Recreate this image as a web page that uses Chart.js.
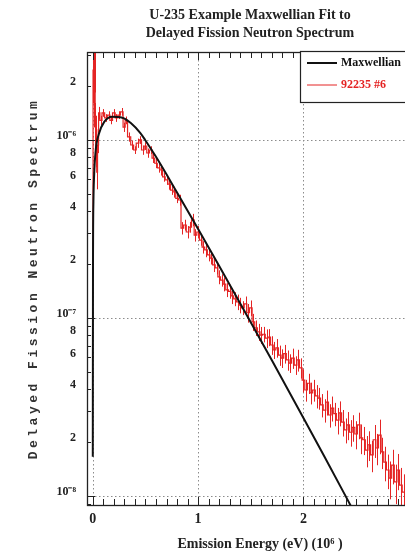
<!DOCTYPE html>
<html><head><meta charset="utf-8">
<script src="https://cdn.jsdelivr.net/npm/chart.js@4/dist/chart.umd.min.js"></script>
<style>
html,body{margin:0;padding:0;background:#fff;overflow:hidden;width:405px;height:559px}
#wrap{width:500px;height:559px;position:relative}
</style></head>
<body><div id="wrap"><canvas id="c" width="500" height="559"></canvas></div>
<script>
const titleLines = ['U-235 Example Maxwellian Fit to', 'Delayed Fission Neutron Spectrum'];
const xAxisTitle = 'Emission Energy (eV) (10\u2076 )';
const yAxisTitle = 'Delayed Fission Neutron Spectrum';
const seriesNames = ['Maxwellian', '92235 #6'];
const xTickValues = [0, 1, 2, 3];
const xTickLabels = ['0', '1', '2', '3'];
const yDecadeValues = [1e-8, 1e-7, 1e-6];
const yDecadeLabels = ['10\u207B\u2078', '10\u207B\u2077', '10\u207B\u2076'];
const yMinorLabelled = [2, 4, 6, 8];

const maxwellE = [0.000, 0.002, 0.006, 0.012, 0.028, 0.060, 0.107, 0.183, 0.280, 0.361, 0.450, 0.497, 0.600, 0.800, 1.000, 1.200, 1.477, 1.700, 2.000, 2.200, 2.445, 2.550];
const maxwellFlux = [1.66e-8, 2.0e-7, 4.5e-7, 6.2e-7, 8.8e-7, 1.09e-6, 1.26e-6, 1.35e-6, 1.334e-6, 1.245e-6, 1.096e-6, 1.0e-6, 8.04e-7, 5.07e-7, 3.16e-7, 1.96e-7, 1.0e-7, 5.78e-8, 2.74e-8, 1.66e-8, 8.91e-9, 6.82e-9];

const measE = [0.000, 0.005, 0.010, 0.015, 0.020, 0.025, 0.030, 0.035, 0.040, 0.050, 0.060, 0.075,
  0.100, 0.125, 0.150, 0.175, 0.200, 0.225, 0.250, 0.275, 0.300, 0.315, 0.345, 0.375,
  0.400, 0.425, 0.450, 0.475, 0.500, 0.525, 0.550, 0.575, 0.600, 0.625, 0.650, 0.675,
  0.700, 0.725, 0.750, 0.775, 0.800, 0.825, 0.850, 0.875, 0.900, 0.925, 0.950, 0.975,
  1.000, 1.025, 1.050, 1.075, 1.100, 1.125, 1.150, 1.175, 1.200, 1.225, 1.250, 1.275,
  1.300, 1.325, 1.350, 1.375, 1.400, 1.425, 1.450, 1.475, 1.500, 1.525, 1.550, 1.575,
  1.600, 1.625, 1.650, 1.675, 1.700, 1.725, 1.750, 1.775, 1.800, 1.825, 1.850, 1.875,
  1.900, 1.925, 1.950, 1.975, 2.000, 2.025, 2.050, 2.075, 2.100, 2.125, 2.150, 2.175,
  2.200, 2.225, 2.250, 2.275, 2.300, 2.325, 2.350, 2.375, 2.400, 2.425, 2.450, 2.475,
  2.500, 2.525, 2.550, 2.575, 2.600, 2.625, 2.650, 2.675, 2.700, 2.725, 2.750, 2.775,
  2.800, 2.825, 2.850, 2.875, 2.900, 2.925, 2.950, 2.975, 3.000];
const measFlux = [2.41e-7, 2.47e-6, 2.89e-6, 1.68e-6, 2.64e-6, 1.29e-6, 8.78e-7, 1.14e-6, 6.6e-7, 9.37e-7, 1.42e-6, 1.29e-6,
  1.42e-6, 1.33e-6, 1.38e-6, 1.29e-6, 1.42e-6, 1.33e-6, 1.38e-6, 1.44e-6, 1.18e-6, 1.29e-6, 1.04e-6, 9.37e-7,
  8.78e-7, 9.6e-7, 1.0e-6, 8.78e-7, 9.25e-7, 8.45e-7, 8.78e-7, 7.9e-7, 7.4e-7, 6.97e-7, 6.78e-7, 6.2e-7,
  5.96e-7, 5.65e-7, 5.23e-7, 5.1e-7, 4.7e-7, 4.6e-7, 3.2e-7, 3.33e-7, 3.04e-7, 3.24e-7, 3.56e-7, 2.92e-7,
  3.04e-7, 2.74e-7, 2.5e-7, 2.41e-7, 2.26e-7, 2.17e-7, 1.99e-7, 1.91e-7, 1.7e-7, 1.63e-7, 1.55e-7, 1.44e-7,
  1.41e-7, 1.33e-7, 1.28e-7, 1.23e-7, 1.18e-7, 1.14e-7, 1.2e-7, 1.07e-7, 1.14e-7, 9.5e-8, 8.8e-8, 8.35e-8,
  8.02e-8, 8.1e-8, 7.7e-8, 7.8e-8, 7.05e-8, 6.61e-8, 6.8e-8, 6.19e-8, 5.95e-8, 6.3e-8, 5.81e-8, 5.58e-8,
  5.95e-8, 5.44e-8, 5.81e-8, 5.25e-8, 4.48e-8, 3.94e-8, 4.3e-8, 3.8e-8, 3.94e-8, 3.65e-8, 3.55e-8, 3.25e-8,
  3.04e-8, 3.37e-8, 2.85e-8, 3.12e-8, 2.9e-8, 2.67e-8, 2.93e-8, 2.6e-8, 2.35e-8, 2.51e-8, 2.28e-8, 2.43e-8,
  2.23e-8, 2.51e-8, 2.12e-8, 2.07e-8, 1.81e-8, 1.94e-8, 1.7e-8, 2.07e-8, 1.86e-8, 2.2e-8, 1.77e-8, 1.55e-8,
  1.4e-8, 1.26e-8, 1.49e-8, 1.2e-8, 1.4e-8, 1.15e-8, 1.05e-8, 9.5e-9, 1.1e-8];
const measErrFrac = [0.15, 0.35, 0.3, 0.3, 0.3, 0.25, 0.2, 0.2, 0.2, 0.1, 0.08, 0.06,
  0.05, 0.05, 0.05, 0.05, 0.05, 0.05, 0.05, 0.05, 0.06, 0.05, 0.06, 0.06,
  0.05, 0.06, 0.05, 0.06, 0.05, 0.06, 0.05, 0.06, 0.06, 0.06, 0.07, 0.06,
  0.06, 0.07, 0.06, 0.07, 0.06, 0.07, 0.08, 0.07, 0.08, 0.07, 0.08, 0.08,
  0.08, 0.07, 0.08, 0.09, 0.08, 0.08, 0.09, 0.08, 0.09, 0.08, 0.09, 0.09,
  0.09, 0.1, 0.09, 0.1, 0.1, 0.09, 0.1, 0.12, 0.1, 0.11, 0.1, 0.11,
  0.11, 0.1, 0.12, 0.11, 0.12, 0.11, 0.12, 0.13, 0.12, 0.12, 0.13, 0.12,
  0.13, 0.12, 0.14, 0.13, 0.15, 0.14, 0.13, 0.14, 0.14, 0.15, 0.14, 0.15,
  0.15, 0.16, 0.15, 0.16, 0.15, 0.17, 0.16, 0.17, 0.16, 0.18, 0.17, 0.17,
  0.18, 0.17, 0.19, 0.18, 0.2, 0.19, 0.2, 0.21, 0.2, 0.22, 0.2, 0.22,
  0.22, 0.24, 0.22, 0.25, 0.23, 0.25, 0.26, 0.25, 0.27];

const SERIF = '"Liberation Serif", "Times New Roman", serif';
const RED = 'rgb(228,36,36)';

const decor = {
  id: 'decor',
  beforeDatasetsDraw(chart) {
    const {ctx, chartArea: a, scales: {x, y}} = chart;
    ctx.save();
    ctx.strokeStyle = '#8c8c8c';
    ctx.lineWidth = 1;
    ctx.setLineDash([1.5, 2.5]);
    ctx.beginPath();
    xTickValues.forEach(v => {
      const px = Math.round(x.getPixelForValue(v)) + 0.5;
      if (px >= a.left && px <= a.right) { ctx.moveTo(px, a.top); ctx.lineTo(px, a.bottom); }
    });
    yDecadeValues.forEach(v => {
      const py = Math.round(y.getPixelForValue(v)) + 0.5;
      ctx.moveTo(a.left, py); ctx.lineTo(a.right, py);
    });
    ctx.stroke();
    ctx.setLineDash([]);
    // error bars of the measured spectrum
    ctx.beginPath();
    ctx.rect(a.left, a.top, a.right - a.left, a.bottom - a.top);
    ctx.clip();
    ctx.strokeStyle = RED;
    ctx.lineWidth = 1;
    ctx.beginPath();
    measE.forEach((e, i) => {
      const px = Math.round(x.getPixelForValue(e)) + 0.5;
      const v = measFlux[i], f = measErrFrac[i];
      ctx.moveTo(px, y.getPixelForValue(v * (1 + f)));
      ctx.lineTo(px, y.getPixelForValue(v * (1 - f)));
    });
    ctx.stroke();
    ctx.restore();
  },
  afterDraw(chart) {
    const {ctx, chartArea: a, scales: {x, y}} = chart;
    ctx.save();
    ctx.strokeStyle = '#222';
    ctx.lineWidth = 1.3;
    ctx.strokeRect(Math.round(a.left) + 0.5, Math.round(a.top) + 0.5, Math.round(a.right - a.left), Math.round(a.bottom - a.top));
    ctx.lineWidth = 1;
    ctx.beginPath();
    for (let k = 0; k <= 40; k++) {
      const v = k / 10;
      if (v > x.max) break;
      const px = Math.round(x.getPixelForValue(v)) + 0.5;
      const len = (k % 10 === 0) ? 8 : 6;
      ctx.moveTo(px, a.bottom); ctx.lineTo(px, a.bottom - len);
      ctx.moveTo(px, a.top); ctx.lineTo(px, a.top + len);
    }
    y.ticks.forEach(t => {
      const py = Math.round(y.getPixelForValue(t.value)) + 0.5;
      const m = Math.round(t.value / Math.pow(10, Math.floor(Math.log10(t.value) + 1e-9)));
      const len = m === 1 ? 8 : 4;
      ctx.moveTo(a.left, py); ctx.lineTo(a.left + len, py);
    });
    ctx.stroke();
    // legend box
    const lx = 300, ly = a.top - 1, lw = 150, lh = 51;
    ctx.fillStyle = '#fff';
    ctx.fillRect(lx, ly, lw, lh);
    ctx.strokeStyle = '#222';
    ctx.lineWidth = 1.2;
    ctx.strokeRect(lx + 0.5, ly + 0.5, lw, lh);
    const ds = chart.data.datasets;
    const rows = [ly + 12, ly + 34];
    ds.forEach((d, i) => {
      ctx.strokeStyle = d.borderColor;
      ctx.lineWidth = i === 0 ? 2 : 1;
      ctx.beginPath();
      ctx.moveTo(307, rows[i]); ctx.lineTo(337, rows[i]);
      ctx.stroke();
      ctx.fillStyle = i === 0 ? '#111' : d.borderColor;
      ctx.font = 'bold 12px ' + SERIF;
      ctx.textAlign = 'left';
      ctx.textBaseline = 'middle';
      ctx.fillText(d.label, 341, rows[i]);
    });
    // y axis title
    ctx.translate(34, (a.top + a.bottom) / 2);
    ctx.rotate(-Math.PI / 2);
    ctx.font = 'bold 13px "Liberation Mono", monospace';
    try { ctx.letterSpacing = '3.5px'; } catch (e) {}
    ctx.fillStyle = '#333';
    ctx.textAlign = 'center';
    ctx.textBaseline = 'middle';
    ctx.fillText(yAxisTitle, 0, 0);
    ctx.restore();
  }
};

new Chart(document.getElementById('c'), {
  type: 'line',
  data: {
    datasets: [
      {
        label: seriesNames[0],
        data: maxwellE.map((e, i) => ({x: e, y: maxwellFlux[i]})),
        borderColor: '#111',
        borderWidth: 2,
        pointRadius: 0,
        cubicInterpolationMode: 'monotone',
        order: 0
      },
      {
        label: seriesNames[1],
        data: measE.map((e, i) => ({x: e, y: measFlux[i]})),
        borderColor: RED,
        borderWidth: 1.2,
        pointRadius: 0,
        stepped: 'middle',
        order: 1
      }
    ]
  },
  options: {
    responsive: false,
    animation: false,
    devicePixelRatio: 1,
    layout: {padding: 0},
    plugins: {
      legend: {display: false},
      tooltip: {enabled: false},
      title: {
        display: true,
        text: titleLines,
        color: '#222',
        font: {family: SERIF, size: 14, weight: 'bold', lineHeight: 1.3},
        padding: {top: 6, bottom: 9.6}
      }
    },
    scales: {
      x: {
        type: 'linear',
        min: -0.055,
        max: 3.23,
        grid: {display: false, drawTicks: false},
        border: {display: false},
        afterBuildTicks(s) { s.ticks = xTickValues.map(v => ({value: v})); },
        afterFit(s) { s.height = 54; },
        ticks: {
          autoSkip: false,
          maxRotation: 0,
          padding: 6,
          color: '#222',
          font: {family: SERIF, size: 14, weight: 'bold'},
          callback(v) { const i = xTickValues.indexOf(v); return i >= 0 ? xTickLabels[i] : ''; }
        },
        title: {
          display: true,
          text: xAxisTitle,
          color: '#222',
          font: {family: SERIF, size: 14, weight: 'bold'},
          padding: {top: 0, bottom: 6}
        }
      },
      y: {
        type: 'logarithmic',
        min: 8.9e-9,
        max: 3.12e-6,
        grid: {display: false, drawTicks: false},
        border: {display: false},
        afterBuildTicks(s) {
          const t = [];
          for (let e = -9; e <= -6; e++) {
            for (let m = 1; m <= 9; m++) {
              const v = m * Math.pow(10, e);
              if (v >= s.min && v <= s.max) t.push({value: v});
            }
          }
          s.ticks = t;
        },
        afterFit(s) { s.width = 87; },
        ticks: {
          autoSkip: false,
          padding: 11,
          labelOffset: -4,
          color: '#222',
          font: {family: SERIF, size: 12, weight: 'bold'},
          callback(v) {
            const i = yDecadeValues.findIndex(d => Math.abs(v / d - 1) < 1e-6);
            if (i >= 0) return yDecadeLabels[i];
            const e = Math.floor(Math.log10(v) + 1e-9);
            const m = Math.round(v / Math.pow(10, e));
            return yMinorLabelled.includes(m) ? String(m) : '';
          }
        }
      },
      yR: {
        type: 'linear',
        position: 'right',
        display: true,
        grid: {display: false, drawTicks: false},
        border: {display: false},
        ticks: {display: false},
        afterFit(s) { s.width = 67; }
      }
    }
  },
  plugins: [decor]
});
</script>
</body></html>
